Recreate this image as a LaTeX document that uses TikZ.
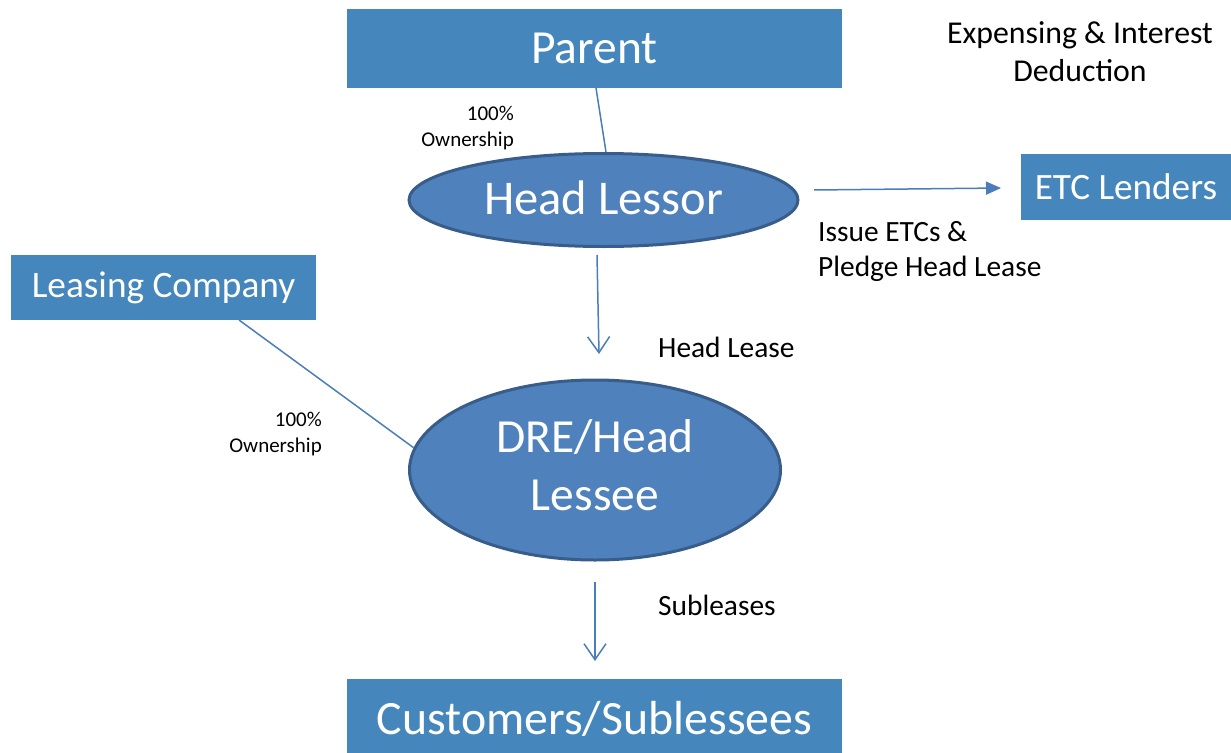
\documentclass[tikz,border=0pt]{standalone}
\usepackage{fontspec}
\setmainfont{Carlito}
\usetikzlibrary{shapes.geometric,arrows.meta,calc}
\definecolor{boxblue}{RGB}{69,135,188}
\definecolor{ellblue}{RGB}{79,129,189}
\definecolor{ellborder}{RGB}{56,93,138}
\definecolor{linkblue}{RGB}{74,126,187}
\tikzset{
  bluebox/.style={rectangle, fill=boxblue, text=white, inner sep=0pt, anchor=center},
  blueell/.style={ellipse, fill=ellblue, draw=ellborder, line width=3pt, text=white, inner sep=0pt, align=center},
  link/.style={draw=linkblue, line width=1.5pt},
  filledarrow/.style={link, -{Triangle[length=15pt,width=13pt]}},
  openarrow/.style={link, -{Straight Barb[length=16pt,width=22pt,line width=1.5pt]}},
  lbl/.style={text=black, inner sep=0pt},
  small/.style={lbl, align=right, font=\fontsize{21}{26}\selectfont},
  mid/.style={lbl, align=left, font=\fontsize{29.4}{35}\selectfont},
}
\begin{document}
\begin{tikzpicture}[x=1pt,y=-1pt]
\useasboundingbox (0,0) rectangle (1231,752);
% boxes
\node[bluebox, minimum width=495pt, minimum height=79pt, font=\fontsize{47.5}{54}\selectfont] (parent) at (594.5,48.5) {\raisebox{-2pt}{Parent}};
\node[bluebox, minimum width=210pt, minimum height=66pt, font=\fontsize{37.2}{43}\selectfont] (etc) at (1126,187) {\raisebox{-2pt}{ETC Lenders}};
\node[bluebox, minimum width=305pt, minimum height=65pt, font=\fontsize{37.3}{43}\selectfont] (leasing) at (163.5,287.5) {\raisebox{-3pt}{Leasing Company}};
\node[bluebox, minimum width=495pt, minimum height=80pt, font=\fontsize{47.8}{60}\selectfont] (cust) at (594.5,719) {Customers/Sublessees};
% ellipses
\node[blueell, minimum width=389pt, minimum height=93pt, font=\fontsize{48.5}{57}\selectfont] (hl) at (603.5,200) {\raisebox{5pt}{Head Lessor}};
\node[blueell, minimum width=371pt, minimum height=180pt, font=\fontsize{47.5}{58}\selectfont] (dre) at (595,470) {\raisebox{4pt}{\begin{tabular}{@{}c@{}}DRE/Head\\Lessee\end{tabular}}};
% free text
\node[lbl, align=center, font=\fontsize{31.8}{38}\selectfont] (exp) at (1080,52) {Expensing \& Interest\\Deduction};
\node[small, anchor=north east] (own1) at (514,106) {100\%\\Ownership};
\node[small, anchor=north east] (own2) at (322,412) {100\%\\Ownership};
\node[mid, anchor=north west] (issue) at (818,221) {Issue ETCs \&\\Pledge Head Lease};
\node[mid, anchor=west] (hlease) at (658,347) {Head Lease};
\node[mid, anchor=west] (sub) at (658,605) {Subleases};
% connector endpoints
\coordinate (p1) at (596,88);
\coordinate (h1) at (606,152);
\coordinate (e1) at (814,190);
\coordinate (e2) at (1001,188);
\coordinate (d1) at (597,255);
\coordinate (d2) at (599,354);
\coordinate (c1) at (595,582);
\coordinate (c2) at (595,661);
\coordinate (l1) at (239,320);
% connectors
\draw[link] (p1) -- (h1);
\draw[filledarrow] (e1) -- (e2);
\draw[openarrow] (d1) -- (d2);
\draw[openarrow] (c1) -- (c2);
\draw[link] (l1) -- (dre.173);
\end{tikzpicture}
\end{document}
